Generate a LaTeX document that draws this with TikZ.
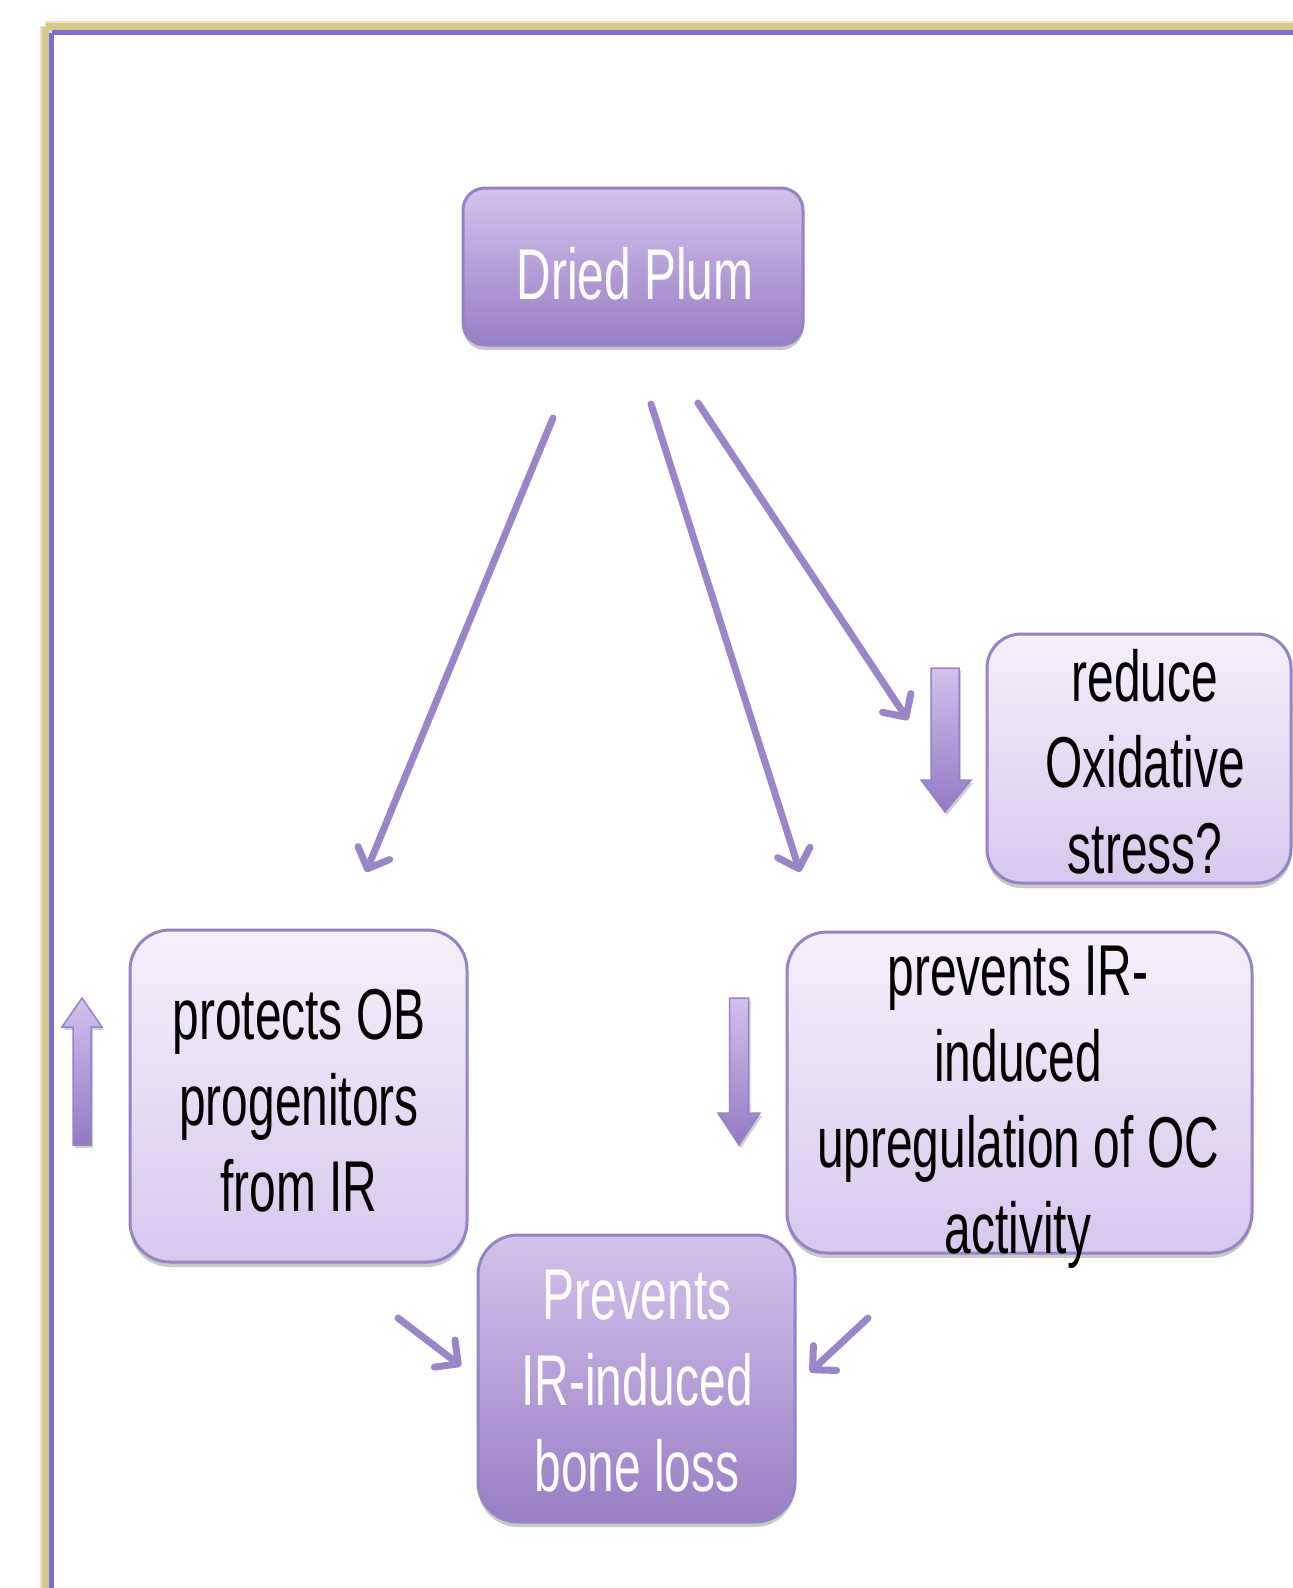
\documentclass[tikz,border=0pt]{standalone}
\usepackage{fontspec}
\newfontfamily\arialn{Liberation Sans}[FakeStretch=0.665]
\usetikzlibrary{arrows.meta,shadows}
\definecolor{gold}{HTML}{D9C88C}
\definecolor{framep}{HTML}{7E6ED3}
\definecolor{darktop}{HTML}{D4C2EC}
\definecolor{darkbot}{HTML}{9A7DC4}
\definecolor{lighttop}{HTML}{F5F0FB}
\definecolor{lightbot}{HTML}{D7C8EE}
\definecolor{boxline}{HTML}{9683C6}
\definecolor{arrowc}{HTML}{9A85C9}
\definecolor{blocktop}{HTML}{D2C0EE}
\definecolor{blockbot}{HTML}{9479C2}
\begin{document}
\begin{tikzpicture}[x=1pt,y=-1pt,
  boxbase/.style={rectangle, inner sep=0pt, draw=boxline, line width=3pt,
    drop shadow={shadow xshift=0pt, shadow yshift=-5pt, opacity=0.35, fill=black!60}},
  darkbox/.style={boxbase, top color=darktop, bottom color=darkbot},
  lightbox/.style={boxbase, top color=lighttop, bottom color=lightbot},
  txt/.style={font=\arialn\fontsize{72}{86}\selectfont, align=center, inner sep=0pt},
  thin/.style={draw=arrowc, line width=7pt, line cap=round,
    -{Straight Barb[length=17pt, width=34pt, round]}},
  blockarrow/.style={draw=boxline, line width=1.5pt, line join=miter, top color=blocktop, bottom color=blockbot,
    drop shadow={shadow xshift=2pt, shadow yshift=-3pt, opacity=0.3, fill=black!60}}
]
\useasboundingbox (0,0) rectangle (1293,1588);
\clip (0,0) rectangle (1293,1588);
\fill[white] (0,0) rectangle (1293,1588);
% frame
\draw[gold!50, line width=11pt] (45,26) -- (1400,26) (45,26) -- (45,1700);
\draw[gold, line width=7pt] (45.5,26.5) -- (1400,26.5) (45.5,26.5) -- (45.5,1700);
\draw[framep, line width=5.5pt] (51.5,32.5) -- (1400,32.5) (51.5,32.5) -- (51.5,1700);

% boxes
\node[darkbox, rounded corners=22pt, minimum width=340pt, minimum height=157pt] (dp) at (633,266.5) {};
\node[lightbox, rounded corners=34pt, minimum width=304pt, minimum height=249pt] (ox) at (1139,758.5) {};
\node[lightbox, rounded corners=40pt, minimum width=337pt, minimum height=332pt] (ob) at (298.5,1096) {};
\node[lightbox, rounded corners=40pt, minimum width=465pt, minimum height=321pt] (oc) at (1019.5,1092.5) {};
\node[darkbox, rounded corners=40pt, minimum width=317pt, minimum height=287pt] (bl) at (636.5,1378.5) {};

% texts
\node[txt, text=white] (dpt) at (635,274) {Dried Plum};
\node[txt] (oxt) at (1145,762) {reduce\\Oxidative\\stress?};
\node[txt] (obt) at (299,1101) {protects OB\\progenitors\\from IR};
\node[txt] (oct) at (1018,1107) {prevents IR-\\induced\\upregulation of OC\\activity};
\node[txt, text=white] (blt) at (637,1381) {Prevents\\IR-induced\\bone loss};

% thin arrows
\coordinate (a1s) at (553,418); \coordinate (a1e) at (366,872);
\coordinate (a2s) at (651,404); \coordinate (a2e) at (800,872);
\coordinate (a3s) at (698,403); \coordinate (a3e) at (908,720);
\coordinate (a4s) at (398,1318); \coordinate (a4e) at (461,1366);
\coordinate (a5s) at (868,1318); \coordinate (a5e) at (810,1372);
\draw[thin] (a1s) -- (a1e);
\draw[thin] (a2s) -- (a2e);
\draw[thin] (a3s) -- (a3e);
\draw[thin] (a4s) -- (a4e);
\draw[thin] (a5s) -- (a5e);

% block arrows
\path[blockarrow] (931,668) -- (959,668) -- (959,780) -- (971,780) -- (945,812) -- (921,780) -- (931,780) -- cycle;
\path[blockarrow] (729.5,998) -- (748.5,998) -- (748.5,1113) -- (760,1113) -- (739,1145) -- (718,1113) -- (729.5,1113) -- cycle;
\path[blockarrow] (73,1145) -- (91,1145) -- (91,1027) -- (102,1027) -- (82,998) -- (62,1027) -- (73,1027) -- cycle;
\end{tikzpicture}
\end{document}
